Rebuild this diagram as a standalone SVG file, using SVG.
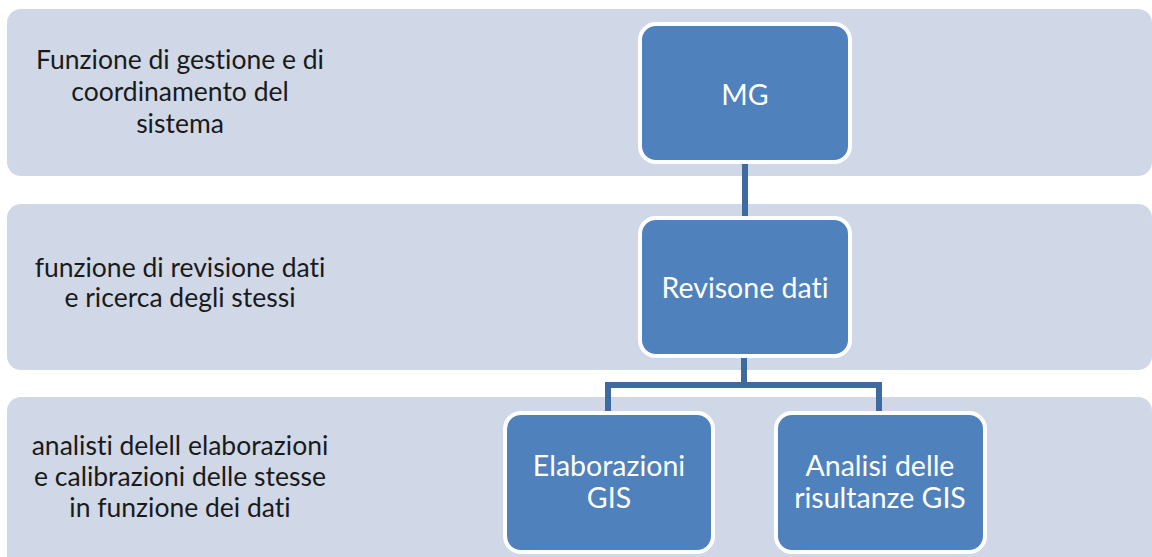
<svg xmlns="http://www.w3.org/2000/svg" width="1152" height="557" viewBox="0 0 1152 557">
<style>
.band{fill:#d0d8e8}
.node{fill:#4f81bd;stroke:#ffffff;stroke-width:4}
.lbl{font-family:Lato,"Open Sans","Liberation Sans",sans-serif;font-size:26.5px;fill:#1a1a1a;text-anchor:middle;font-variant-ligatures:none}
.ntx{font-family:Lato,"Open Sans","Liberation Sans",sans-serif;font-size:28.5px;fill:#ffffff;text-anchor:middle;font-variant-ligatures:none}
.con{fill:none;stroke:#3d6a9f;stroke-width:6}
</style>
<rect width="1152" height="557" fill="#ffffff"/>
<g id="band1"><rect class="band" x="7" y="9" width="1145" height="167" rx="14"/>
<text class="lbl"><tspan x="180" y="69">Funzione di gestione e di</tspan><tspan x="180" y="101">coordinamento del</tspan><tspan x="180" y="133">sistema</tspan></text></g>
<g id="band2"><rect class="band" x="7" y="204" width="1145" height="166" rx="14"/>
<text class="lbl"><tspan x="180" y="277">funzione di revisione dati</tspan><tspan x="180" y="307">e ricerca degli stessi</tspan></text></g>
<g id="band3"><rect class="band" x="7" y="397" width="1145" height="175" rx="14"/>
<text class="lbl"><tspan x="180" y="455">analisti delell elaborazioni</tspan><tspan x="180" y="486">e calibrazioni delle stesse</tspan><tspan x="180" y="517">in funzione dei dati</tspan></text></g>
<g id="connectors">
<path class="con" d="M745 163 V218"/>
<path class="con" d="M744 356 V385 M608 411 V385 H879 V411"/>
</g>
<g id="mg"><rect class="node" x="640" y="24" width="210" height="138" rx="16"/>
<text class="ntx" x="745" y="105">MG</text></g>
<g id="revisione"><rect class="node" x="640" y="218" width="210" height="138" rx="16"/>
<text class="ntx" x="745" y="298">Revisone dati</text></g>
<g id="elaborazioni"><rect class="node" x="505" y="413" width="208" height="139" rx="16"/>
<text class="ntx"><tspan x="609" y="476">Elaborazioni</tspan><tspan x="609" y="508">GIS</tspan></text></g>
<g id="analisi"><rect class="node" x="776" y="413" width="209" height="139" rx="16"/>
<text class="ntx"><tspan x="880" y="476">Analisi delle</tspan><tspan x="880" y="508">risultanze GIS</tspan></text></g>
</svg>
